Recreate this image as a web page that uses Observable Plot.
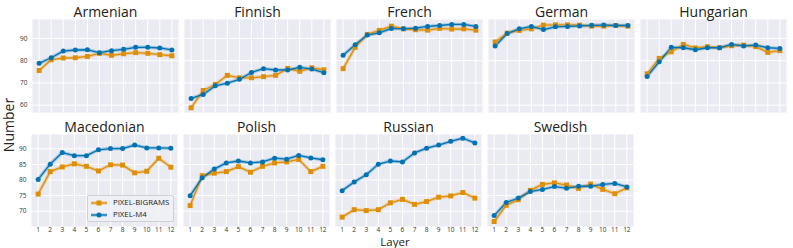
<!DOCTYPE html>
<html><head><meta charset="utf-8">
<script src="https://cdn.jsdelivr.net/npm/d3@7"></script>
<script src="https://cdn.jsdelivr.net/npm/@observablehq/plot@0.6"></script>
<style>
body{margin:0;background:#fff;}
#root{position:relative;width:793px;height:248px;font-family:"Open Sans",sans-serif;overflow:hidden;background:#fff;}
.row{position:absolute;left:0;}
.lbl{position:absolute;color:#222;white-space:nowrap;line-height:1;}
#legend{position:absolute;left:87px;top:195px;width:85px;height:25px;border:1px solid #cfcfd6;border-radius:2px;background:rgba(240,240,246,0.9);font-size:7.8px;color:#222;white-space:nowrap;}
#legend div{position:absolute;left:3px;height:10px;display:flex;align-items:center;white-space:nowrap;}
#legend span{margin-left:6px;line-height:1;}
</style></head><body><div id="root"></div>
<script>
const layers = [1,2,3,4,5,6,7,8,9,10,11,12];
const models = ["PIXEL-BIGRAMS","PIXEL-M4"];
const topLangs = ["Armenian","Finnish","French","German","Hungarian"];
const bottomLangs = ["Macedonian","Polish","Russian","Swedish"];
const topTicks = [60,70,80,90];
const bottomTicks = [70,75,80,85,90];

const armenianBigrams = [75.6,80.4,81.2,81.3,81.9,83.3,82.4,83.1,83.6,83.3,82.7,82.2];
const armenianM4      = [78.8,81.3,84.3,84.8,84.9,83.6,84.5,85.1,86.0,86.0,85.7,84.8];
const finnishBigrams  = [58.8,66.6,69.3,73.4,72.3,72.3,72.8,73.4,76.5,75.2,76.8,75.9];
const finnishM4       = [63.0,64.8,68.7,69.9,71.6,74.7,76.4,75.8,75.8,77.0,76.2,74.6];
const frenchBigrams   = [76.4,86.0,91.8,93.6,95.5,94.3,93.9,93.7,94.5,94.2,94.3,93.7];
const frenchM4        = [82.4,87.2,91.5,92.5,94.5,94.3,94.6,95.4,95.8,96.3,96.3,95.4];
const germanBigrams   = [88.4,92.4,93.6,94.3,96.0,96.1,96.1,96.0,95.5,95.5,95.8,95.5];
const germanM4        = [86.6,92.2,94.3,95.4,94.0,95.2,95.4,95.6,95.9,96.0,95.8,95.8];
const hungarianBigrams= [74.1,81.0,84.0,87.3,85.7,86.3,85.8,86.7,87.0,86.3,83.7,84.5];
const hungarianM4     = [72.9,79.5,86.0,85.8,84.9,85.8,85.8,87.3,86.6,87.0,85.8,85.5];
const macedonianBigrams=[75.5,82.7,84.2,85.2,84.4,82.9,84.9,84.8,82.3,82.8,87.0,84.1];
const macedonianM4    = [80.2,85.1,88.8,87.8,87.8,89.7,90.1,90.1,91.2,90.3,90.3,90.2];
const polishBigrams   = [71.8,81.4,82.2,82.7,84.3,82.5,84.4,85.5,85.8,86.6,82.7,84.4];
const polishM4        = [75.0,80.7,83.5,85.5,86.1,85.5,85.8,87.0,86.7,87.9,87.1,86.5];
const russianBigrams  = [68.1,70.5,70.2,70.5,72.7,73.8,72.2,73.1,74.5,74.9,76.0,74.2];
const russianM4       = [76.6,79.4,81.7,85.1,86.1,85.8,88.7,90.2,91.2,92.4,93.4,91.9];
const swedishBigrams  = [66.7,71.9,73.7,76.7,78.6,79.1,78.4,77.3,78.7,77.0,75.6,77.5];
const swedishM4       = [68.6,72.8,74.2,76.3,77.0,77.9,77.4,78.0,78.0,78.6,78.9,77.8];

const series = {
  Armenian:[armenianBigrams,armenianM4], Finnish:[finnishBigrams,finnishM4],
  French:[frenchBigrams,frenchM4], German:[germanBigrams,germanM4],
  Hungarian:[hungarianBigrams,hungarianM4], Macedonian:[macedonianBigrams,macedonianM4],
  Polish:[polishBigrams,polishM4], Russian:[russianBigrams,russianM4],
  Swedish:[swedishBigrams,swedishM4]
};
const table = [];
for (const lang in series) series[lang].forEach((vals, mi) =>
  vals.forEach((v, i) => table.push({lang, model: models[mi], layer: layers[i], value: v})));

const ORANGE = "#DE8F05", BLUE = "#0173B2";

function row(langs, yDomain, yTicks, showX, opts) {
  const data = table.filter(d => langs.includes(d.lang));
  const big = data.filter(d => d.model === models[0]);
  const m4 = data.filter(d => d.model === models[1]);
  return Plot.plot({
    width: 793, height: opts.height,
    marginLeft: 30, marginRight: opts.marginRight, marginTop: opts.marginTop, marginBottom: opts.marginBottom,
    style: {fontFamily: "Open Sans, sans-serif", background: "transparent", color: "#222"},
    fx: {domain: langs, paddingInner: 0.04, paddingOuter: 0, label: null},
    x: {domain: [0.45, 12.55], axis: showX ? undefined : null},
    y: {domain: yDomain},
    color: {domain: models, range: [ORANGE, BLUE]},
    marks: [
      Plot.frame({fill: "#eaeaf2", stroke: null}),
      Plot.gridX(layers, {stroke: "white", strokeOpacity: 1, strokeWidth: 1}),
      Plot.gridY(yTicks, {stroke: "white", strokeOpacity: 1, strokeWidth: 1}),
      Plot.axisFx({anchor: "top", tickSize: 0, tickPadding: 3, fontSize: 14, label: null}),
      Plot.axisY(yTicks, {tickSize: 0, tickPadding: 5, fontSize: 6.5, label: null, fill: "#333"}),
      showX ? Plot.axisX(layers, {tickSize: 0, tickPadding: 1, fontSize: 6.5, label: null, fill: "#333"}) : null,
      Plot.line(data, {fx: "lang", x: "layer", y: "value", stroke: "model", strokeWidth: 3.5, strokeOpacity: 0.3}),
      Plot.line(data, {fx: "lang", x: "layer", y: "value", stroke: "model", strokeWidth: 1.3}),
      Plot.dot(big, {fx: "lang", x: "layer", y: "value", fill: ORANGE, symbol: "square", r: 2.8}),
      Plot.dot(m4, {fx: "lang", x: "layer", y: "value", fill: BLUE, r: 2.5})
    ]
  });
}

const root = document.getElementById("root");
const r1 = row(topLangs, [56.7, 98.5], topTicks, false, {height: 116, marginTop: 19, marginBottom: 4, marginRight: 6});
r1.classList.add("row"); r1.style.top = "0px";
root.appendChild(r1);
const r2 = row(bottomLangs, [65.1, 94.6], bottomTicks, true, {height: 132, marginTop: 18, marginBottom: 22, marginRight: 158.7});
r2.classList.add("row"); r2.style.top = "116px";
root.appendChild(r2);

const yl = document.createElement("div");
yl.className = "lbl"; yl.textContent = "Number";
yl.style.cssText += "left:9px;top:125px;font-size:14px;transform:translate(-50%,-50%) rotate(-90deg);";
root.appendChild(yl);
const xl = document.createElement("div");
xl.className = "lbl"; xl.textContent = "Layer";
xl.style.cssText += "left:395px;top:242px;font-size:11.5px;transform:translate(-50%,-50%);";
root.appendChild(xl);

const lg = document.createElement("div");
lg.id = "legend";
const sw = (color, sq) => `<svg width="16" height="8"><line x1="0" x2="16" y1="4" y2="4" stroke="${color}" stroke-width="3.5" stroke-opacity="0.3"/><line x1="0" x2="16" y1="4" y2="4" stroke="${color}" stroke-width="1.3"/>${sq ? `<rect x="5.5" y="1.5" width="5" height="5" fill="${color}"/>` : `<circle cx="8" cy="4" r="2.5" fill="${color}"/>`}</svg>`;
lg.innerHTML = `<div style="top:2px">${sw(ORANGE, true)}<span>${models[0]}</span></div><div style="top:14px">${sw(BLUE, false)}<span>${models[1]}</span></div>`;
root.appendChild(lg);
</script></body></html>
